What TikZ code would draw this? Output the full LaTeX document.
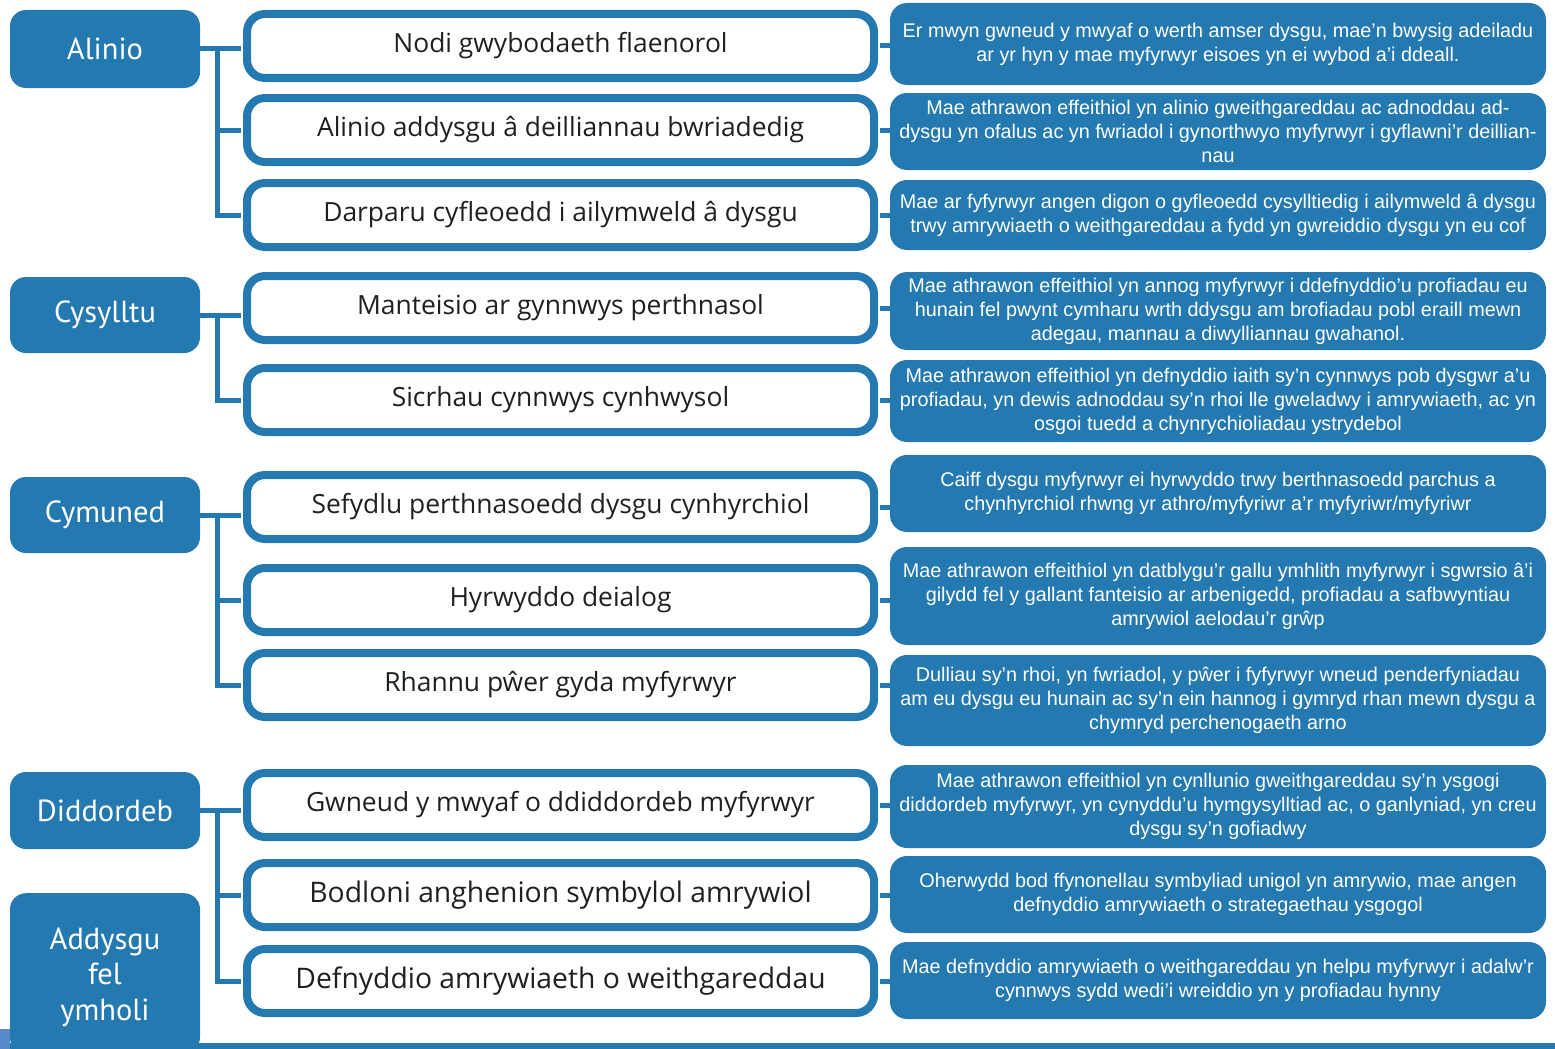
\documentclass[tikz,border=0pt]{standalone}
\usepackage{fontspec}
\setmainfont{Liberation Sans}
\newfontfamily\midfont{Open Sans}
\newfontfamily\leftfont{PT Sans}
\newfontfamily\rightfont{Liberation Sans}
\definecolor{cblue}{RGB}{35,121,176}
\definecolor{clight}{RGB}{86,138,200}
\definecolor{ctext}{RGB}{35,31,32}
\begin{document}
\begin{tikzpicture}[x=1pt,y=-1pt,
  leftbox/.style={fill=cblue, draw=none, rounded corners=16pt, minimum width=190pt, inner sep=0pt, text=white, align=center, font=\leftfont\fontsize{30.5}{35}\selectfont},
  midbox/.style={draw=cblue, line width=8pt, fill=white, rounded corners=18pt, minimum width=627pt, minimum height=64pt, inner sep=0pt, text=ctext, font=\midfont\fontsize{26.4}{30}\selectfont},
  midbig/.style={midbox, font=\midfont\fontsize{28.3}{30}\selectfont},
  rightbox/.style={fill=cblue, draw=none, rounded corners=17pt, minimum width=656pt, inner sep=0pt, text=white, align=center, font=\rightfont\fontsize{19.8}{24}\selectfont},
  conn/.style={draw=cblue, line width=5pt},
]
\useasboundingbox (0,0) rectangle (1555,1049);

% left boxes
\node[leftbox, minimum height=78pt] (L1) at (105,49) {Alinio};
\node[leftbox, minimum height=76pt] (L2) at (105,315) {Cysylltu};
\node[leftbox, minimum height=76pt] (L3) at (105,515) {Cymuned};
\node[leftbox, minimum height=77pt] (L4) at (105,810.5) {Diddordeb};
\node[leftbox, minimum height=160pt, anchor=north] (L5) at (105,893) {};
\node[text=white, align=center, font=\leftfont\fontsize{30.5}{35.5}\selectfont] (L5t) at (105,977) {Addysgu\\fel\\ymholi};

% middle boxes
\node[midbox] (M1) at (560.5,46) {Nodi gwybodaeth flaenorol};
\node[midbox] (M2) at (560.5,130) {Alinio addysgu â deilliannau bwriadedig};
\node[midbox] (M3) at (560.5,215) {Darparu cyfleoedd i ailymweld â dysgu};
\node[midbox] (M4) at (560.5,308) {Manteisio ar gynnwys perthnasol};
\node[midbox] (M5) at (560.5,400) {Sicrhau cynnwys cynhwysol};
\node[midbox] (M6) at (560.5,507) {Sefydlu perthnasoedd dysgu cynhyrchiol};
\node[midbox] (M7) at (560.5,600) {Hyrwyddo deialog};
\node[midbox] (M8) at (560.5,685) {Rhannu pŵer gyda myfyrwyr};
\node[midbox] (M9) at (560.5,805) {Gwneud y mwyaf o ddiddordeb myfyrwyr};
\node[midbig] (M10) at (560.5,895) {Bodloni anghenion symbylol amrywiol};
\node[midbig] (M11) at (560.5,981) {Defnyddio amrywiaeth o weithgareddau};

% right boxes
\node[rightbox, minimum height=82pt] (R1) at (1218,44) {Er mwyn gwneud y mwyaf o werth amser dysgu, mae’n bwysig adeiladu\\ar yr hyn y mae myfyrwyr eisoes yn ei wybod a’i ddeall.};
\node[rightbox, minimum height=77pt] (R2) at (1218,131.5) {Mae athrawon effeithiol yn alinio gweithgareddau ac adnoddau ad-\\dysgu yn ofalus ac yn fwriadol i gynorthwyo myfyrwyr i gyflawni’r deillian-\\nau};
\node[rightbox, minimum height=70pt] (R3) at (1218,215) {Mae ar fyfyrwyr angen digon o gyfleoedd cysylltiedig i ailymweld â dysgu\\trwy amrywiaeth o weithgareddau a fydd yn gwreiddio dysgu yn eu cof};
\node[rightbox, minimum height=78pt] (R4) at (1218,311) {Mae athrawon effeithiol yn annog myfyrwyr i ddefnyddio’u profiadau eu\\hunain fel pwynt cymharu wrth ddysgu am brofiadau pobl eraill mewn\\adegau, mannau a diwylliannau gwahanol.};
\node[rightbox, minimum height=82pt] (R5) at (1218,401) {Mae athrawon effeithiol yn defnyddio iaith sy’n cynnwys pob dysgwr a’u\\profiadau, yn dewis adnoddau sy’n rhoi lle gweladwy i amrywiaeth, ac yn\\osgoi tuedd a chynrychioliadau ystrydebol};
\node[rightbox, minimum height=77pt] (R6) at (1218,493.5) {Caiff dysgu myfyrwyr ei hyrwyddo trwy berthnasoedd parchus a\\chynhyrchiol rhwng yr athro/myfyriwr a’r myfyriwr/myfyriwr};
\node[rightbox, minimum height=98pt] (R7) at (1218,596) {Mae athrawon effeithiol yn datblygu’r gallu ymhlith myfyrwyr i sgwrsio â’i\\gilydd fel y gallant fanteisio ar arbenigedd, profiadau a safbwyntiau\\amrywiol aelodau’r grŵp};
\node[rightbox, minimum height=91pt] (R8) at (1218,700.5) {Dulliau sy’n rhoi, yn fwriadol, y pŵer i fyfyrwyr wneud penderfyniadau\\am eu dysgu eu hunain ac sy’n ein hannog i gymryd rhan mewn dysgu a\\chymryd perchenogaeth arno};
\node[rightbox, minimum height=83pt] (R9) at (1218,806.5) {Mae athrawon effeithiol yn cynllunio gweithgareddau sy’n ysgogi\\diddordeb myfyrwyr, yn cynyddu’u hymgysylltiad ac, o ganlyniad, yn creu\\dysgu sy’n gofiadwy};
\node[rightbox, minimum height=77pt] (R10) at (1218,894.5) {Oherwydd bod ffynonellau symbyliad unigol yn amrywio, mae angen\\defnyddio amrywiaeth o strategaethau ysgogol};
\node[rightbox, minimum height=77pt] (R11) at (1218,980.5) {Mae defnyddio amrywiaeth o weithgareddau yn helpu myfyrwyr i adalw’r\\cynnwys sydd wedi’i wreiddio yn y profiadau hynny};

% connectors left to middle
\coordinate (J1) at ([xshift=17pt]L1.east);
\coordinate (J2) at ([xshift=17pt]L2.east);
\coordinate (J3) at ([xshift=17pt]L3.east);
\coordinate (J4) at ([xshift=17pt]L4.east);
\draw[conn] (L1.east) -- ([xshift=-2pt]M1.west |- L1.east);
\draw[conn] (J1) |- ([xshift=-2pt]M2.west);
\draw[conn] (J1) |- ([xshift=-2pt]M3.west);
\draw[conn] (L2.east) -- ([xshift=-2pt]M4.west |- L2.east);
\draw[conn] (J2) |- ([xshift=-2pt]M5.west);
\draw[conn] (L3.east) -- ([xshift=-2pt]M6.west |- L3.east);
\draw[conn] (J3) |- ([xshift=-2pt]M7.west);
\draw[conn] (J3) |- ([xshift=-2pt]M8.west);
\draw[conn] (L4.east) -- ([xshift=-2pt]M9.west |- L4.east);
\draw[conn] (J4) |- ([xshift=-2pt]M10.west);
\draw[conn] (J4) |- ([xshift=-2pt]M11.west);

% connectors middle to right
\foreach \i in {1,...,11} {
  \draw[conn] ([xshift=2pt]M\i.east) -- (R\i.west |- M\i.east);
}

% bottom rule
\fill[cblue] (0,1043) rectangle (1555,1049);
\fill[clight] (0,1029) rectangle (10,1049);
\end{tikzpicture}
\end{document}
